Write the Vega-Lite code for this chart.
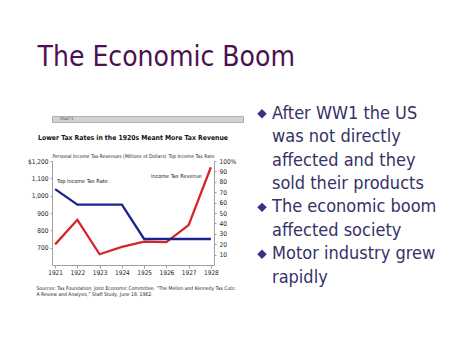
{
  "$schema": "https://vega.github.io/schema/vega-lite/v6.json",
  "background": "white",
  "padding": {"left": 27, "top": 43, "right": 0, "bottom": 0},
  "title": {"text": "The Economic Boom", "anchor": "start", "frame": "bounds", "font": "DejaVu Sans Condensed", "fontSize": 28, "fontWeight": "normal", "color": "#4d1052", "offset": 33, "dx": 10},
  "config": {
    "view": {"stroke": null},
    "axis": {"labelFont": "DejaVu Sans Condensed", "titleFont": "DejaVu Sans Condensed", "labelColor": "#222", "titleColor": "#222", "domainColor": "#a0a0a0", "tickColor": "#a0a0a0", "grid": false, "labelOverlap": false}
  },
  "datasets": {
    "tax": [
      {"year": "1921", "revenue": 719, "rate": 73},
      {"year": "1922", "revenue": 861, "rate": 58},
      {"year": "1923", "revenue": 662, "rate": 58},
      {"year": "1924", "revenue": 704, "rate": 58},
      {"year": "1925", "revenue": 735, "rate": 25},
      {"year": "1926", "revenue": 732, "rate": 25},
      {"year": "1927", "revenue": 830, "rate": 25},
      {"year": "1928", "revenue": 1164, "rate": 25}
    ],
    "bullets": [
      {"line": 1, "text": "After WW1 the US", "first": true},
      {"line": 2, "text": "was not directly", "first": false},
      {"line": 3, "text": "affected and they", "first": false},
      {"line": 4, "text": "sold their products", "first": false},
      {"line": 5, "text": "The economic boom", "first": true},
      {"line": 6, "text": "affected society", "first": false},
      {"line": 7, "text": "Motor industry grew", "first": true},
      {"line": 8, "text": "rapidly", "first": false}
    ]
  },
  "spacing": 13,
  "hconcat": [
    {
      "concat": [
        {
          "width": 191,
          "height": 6,
          "view": {"fill": "#d2d2d2", "stroke": "#b0b0b0"},
          "data": {"values": [{"label": "Chart 1"}]},
          "mark": {"type": "text", "fontSize": 4, "align": "left", "dx": 8, "color": "#333", "font": "DejaVu Sans Condensed"},
          "encoding": {
            "x": {"field": "label", "type": "nominal", "scale": {"type": "point", "padding": 0, "align": 0}, "axis": null},
            "text": {"field": "label"}
          }
        },
        {
          "width": 162,
          "height": 104,
          "title": {"text": "Lower Tax Rates in the 1920s Meant More Tax Revenue", "fontSize": 6.8, "font": "DejaVu Sans Condensed", "fontWeight": "bold", "color": "#111", "offset": 11},
          "data": {"name": "tax"},
          "encoding": {
            "x": {
              "field": "year", "type": "ordinal",
              "scale": {"type": "point", "padding": 0.14},
              "axis": {
                "labelAngle": 0, "labelFontSize": 6.5, "tickSize": 3, "labelPadding": 1, "labelOverlap": false,
                "title": ["Sources:  Tax Foundation; Joint Economic Committee, \u201cThe Mellon and Kennedy Tax Cuts:", "\u00a0\u00a0A Review and Analysis,\u201d Staff Study,  June 18, 1982."],
                "titleFontSize": 5, "titleFontWeight": "normal", "titleAnchor": "start", "titleAlign": "left", "titleX": -16, "titlePadding": 10, "titleLineHeight": 6
              }
            }
          },
          "layer": [
            {
              "encoding": {
                "y": {
                  "field": "revenue", "type": "quantitative",
                  "scale": {"domain": [600, 1200], "nice": false, "zero": false},
                  "axis": {
                    "orient": "left", "values": [700, 800, 900, 1000, 1100, 1200],
                    "labelExpr": "datum.value == 1200 ? '$1,200' : format(datum.value, ',')",
                    "labelOverlap": false, "labelFontSize": 6.5, "tickSize": 2, "labelPadding": 2,
                    "title": "Personal Income Tax Revenues (Millions of Dollars)",
                    "titleAngle": 0, "titleAlign": "left", "titleBaseline": "bottom", "titleX": 0, "titleY": -3,
                    "titleFontSize": 5, "titleFontWeight": "normal"
                  }
                }
              },
              "layer": [
                {
                  "mark": {"type": "line", "color": "#d8232a", "strokeWidth": 2.3}
                },
                {
                  "data": {"values": [{"year": "1928", "revenue": 1113, "label": "Income Tax Revenue"}]},
                  "mark": {"type": "text", "align": "right", "baseline": "middle", "dx": -9, "fontSize": 5.5, "font": "DejaVu Sans Condensed", "color": "#222"},
                  "encoding": {"text": {"field": "label"}}
                }
              ]
            },
            {
              "encoding": {
                "y": {
                  "field": "rate", "type": "quantitative",
                  "scale": {"domain": [0, 100], "nice": false},
                  "axis": {
                    "orient": "right", "values": [10, 20, 30, 40, 50, 60, 70, 80, 90, 100],
                    "labelExpr": "datum.value == 100 ? '100%' : datum.label",
                    "labelOverlap": false, "labelFontSize": 6.5, "tickSize": 2, "labelPadding": 3,
                    "title": "Top Income Tax Rate",
                    "titleAngle": 0, "titleAlign": "right", "titleBaseline": "bottom", "titleX": 0, "titleY": -3,
                    "titleFontSize": 5, "titleFontWeight": "normal"
                  }
                }
              },
              "layer": [
                {
                  "mark": {"type": "line", "color": "#1c2490", "strokeWidth": 2.3}
                },
                {
                  "data": {"values": [{"year": "1921", "rate": 81, "label": "Top Income Tax Rate"}]},
                  "mark": {"type": "text", "align": "left", "baseline": "middle", "dx": 2, "fontSize": 5.5, "font": "DejaVu Sans Condensed", "color": "#222"},
                  "encoding": {"text": {"field": "label"}}
                }
              ]
            }
          ],
          "resolve": {"scale": {"y": "independent"}}
        }
      ],
      "columns": 1,
      "spacing": 12
    },
    {
      "width": 10,
      "height": 164,
      "data": {"name": "bullets"},
      "encoding": {
        "y": {"field": "line", "type": "quantitative", "scale": {"domain": [1.1, 8.1], "reverse": true, "nice": false, "zero": false}, "axis": null}
      },
      "layer": [
        {
          "transform": [{"filter": "datum.first"}],
          "mark": {"type": "point", "shape": "diamond", "filled": true, "size": 90, "color": "#3b2f8c", "opacity": 1},
          "encoding": {
            "x": {"datum": "bullet", "type": "ordinal", "scale": {"type": "point", "domain": ["bullet", "text"], "padding": 0}, "axis": null}
          }
        },
        {
          "mark": {"type": "text", "align": "left", "baseline": "middle", "fontSize": 18, "font": "DejaVu Sans Condensed", "color": "#333366"},
          "encoding": {
            "x": {"datum": "text", "type": "ordinal"},
            "text": {"field": "text"}
          }
        }
      ]
    }
  ]
}
